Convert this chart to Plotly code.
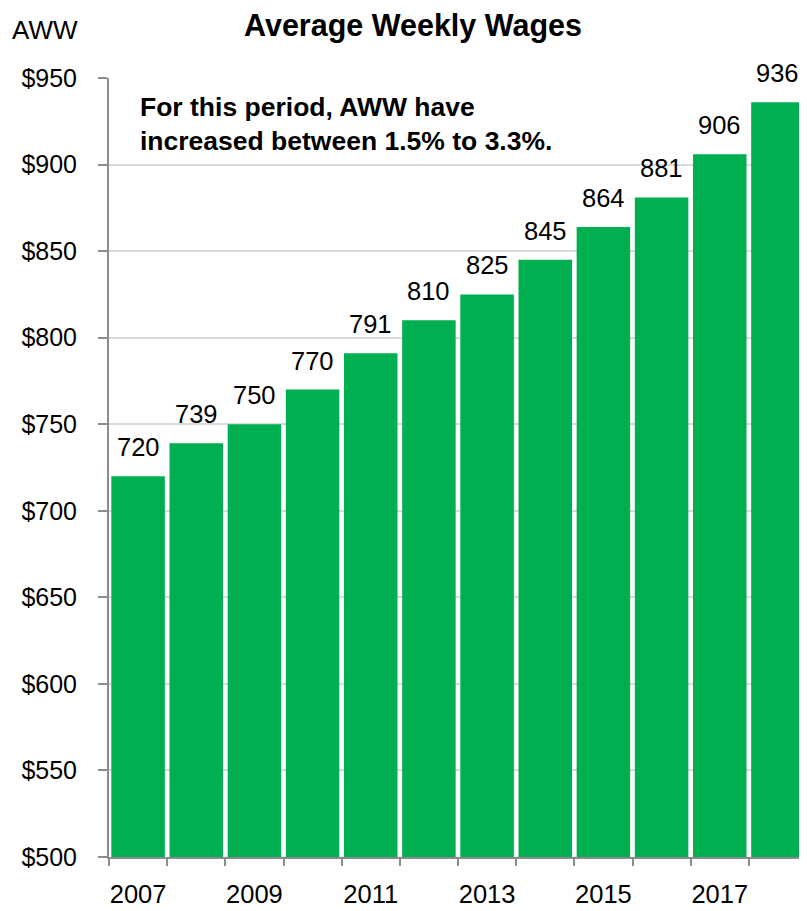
import plotly.graph_objects as go

years = [2007, 2008, 2009, 2010, 2011, 2012, 2013, 2014, 2015, 2016, 2017, 2018]
aww = [720, 739, 750, 770, 791, 810, 825, 845, 864, 881, 906, 936]
y_ticks = [500, 550, 600, 650, 700, 750, 800, 850, 900, 950]
x_label_years = [2007, 2009, 2011, 2013, 2015, 2017]
boundaries = [y - 0.5 for y in years] + [years[-1] + 0.5]

FONT = "Liberation Sans, Arial, sans-serif"
GREEN = "#00b050"
AXIS = "#8c8c8c"

fig = go.Figure()
fig.add_trace(go.Bar(
    x=years, y=aww, marker=dict(color=GREEN, line=dict(width=0)),
    showlegend=False, hoverinfo="x+y",
))
# invisible trace to create secondary x axis for boundary tick marks
fig.add_trace(go.Scatter(x=[years[0]], y=[aww[0]], xaxis="x2", mode="markers",
                         marker=dict(opacity=0), showlegend=False, hoverinfo="skip"))

value_labels = [
    dict(x=yr, y=v, xref="x", yref="y", text=str(v), showarrow=False,
         xanchor="center", yanchor="bottom", yshift=13,
         font=dict(family=FONT, size=25.5, color="#000000"))
    for yr, v in zip(years, aww)
]

fig.update_layout(
    width=799, height=903,
    margin=dict(l=101, r=0, t=70, b=54, autoexpand=False),
    paper_bgcolor="white", plot_bgcolor="white",
    bargap=0.08,
    font=dict(family=FONT, color="#000000"),
    title=dict(text="<b>Average Weekly Wages</b>", xref="container", x=0.5069, xanchor="center",
               yref="container", y=0.9812, yanchor="middle",
               font=dict(family=FONT, size=30.5, color="#000000")),
    xaxis=dict(range=[boundaries[0], boundaries[-1]], tickvals=x_label_years,
               ticktext=[str(v) for v in x_label_years], ticks="", showgrid=False,
               showline=True, linecolor=AXIS, linewidth=2, zeroline=False, automargin=False,
               tickfont=dict(family=FONT, size=25.5, color="#000000"), ticklabelstandoff=13),
    xaxis2=dict(range=[boundaries[0], boundaries[-1]], overlaying="x", anchor="y", side="bottom",
                tickvals=boundaries, ticktext=["" for _ in boundaries], ticks="outside",
                ticklen=8, tickwidth=2, tickcolor=AXIS, showgrid=False, showline=False,
                zeroline=False, showticklabels=False, automargin=False),
    yaxis=dict(range=[500, 950], tickvals=y_ticks, ticktext=[f"${v}" for v in y_ticks],
               ticks="outside", ticklen=9, tickwidth=2, tickcolor=AXIS,
               showline=True, linecolor=AXIS, linewidth=2, automargin=False,
               showgrid=True, gridcolor="#d9d9d9", gridwidth=2, zeroline=False,
               tickfont=dict(family=FONT, size=25, color="#000000"), ticklabelstandoff=16),
    annotations=value_labels + [
        dict(text="AWW", xref="paper", yref="paper", x=-0.1418, y=1.0616, xanchor="left",
             yanchor="middle", showarrow=False, font=dict(family=FONT, size=26, color="#000000")),
        dict(text="<b>For this period, AWW have<br>increased between 1.5% to 3.3%.</b>",
             xref="paper", yref="paper", x=0.0415, y=0.985, xanchor="left", yanchor="top",
             align="left", showarrow=False, font=dict(family=FONT, size=26.5, color="#000000")),
    ],
)

fig.write_html("out.html")
